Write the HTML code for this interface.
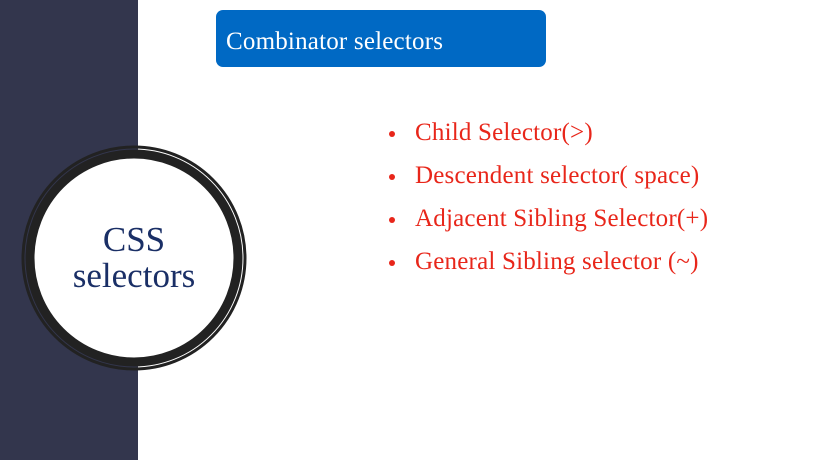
<!DOCTYPE html>
<html><head><style>
body{margin:0;width:832px;height:460px;background:#fff;position:relative;overflow:hidden;font-family:"Liberation Serif",serif}
.side{position:absolute;left:0;top:0;width:138px;height:460px;background:#33364d}
.box{position:absolute;left:216px;top:10px;width:330px;height:57px;background:#0069c4;border-radius:7px;color:#fff;font-size:25px;line-height:64px;padding-left:10px;box-sizing:border-box;letter-spacing:0.2px}
.li{position:absolute;left:415px;color:#e8261a;font-size:25px;white-space:nowrap;letter-spacing:0.2px}
.dot{position:absolute;left:389px;width:6px;height:6px;border-radius:50%;background:#e8261a}
.t{position:absolute;left:34px;width:200px;text-align:center;color:#1a2f66;font-size:35px;line-height:36px;top:222px}
</style></head><body>
<div class="side"></div>
<svg style="position:absolute;left:0;top:0" width="832" height="460">
<circle cx="134" cy="258" r="111" fill="none" stroke="#222" stroke-width="3"/>
<circle cx="134" cy="258" r="104" fill="#fff" stroke="#222" stroke-width="9"/>
</svg>
<div class="t">CSS<br>selectors</div>
<div class="box">Combinator selectors</div>
<div class="dot" style="top:131px"></div><div class="li" style="top:119px">Child Selector(&gt;)</div>
<div class="dot" style="top:174px"></div><div class="li" style="top:162px">Descendent selector( space)</div>
<div class="dot" style="top:217px"></div><div class="li" style="top:205px">Adjacent Sibling Selector(+)</div>
<div class="dot" style="top:260px"></div><div class="li" style="top:248px">General Sibling selector (~)</div>
</body></html>
